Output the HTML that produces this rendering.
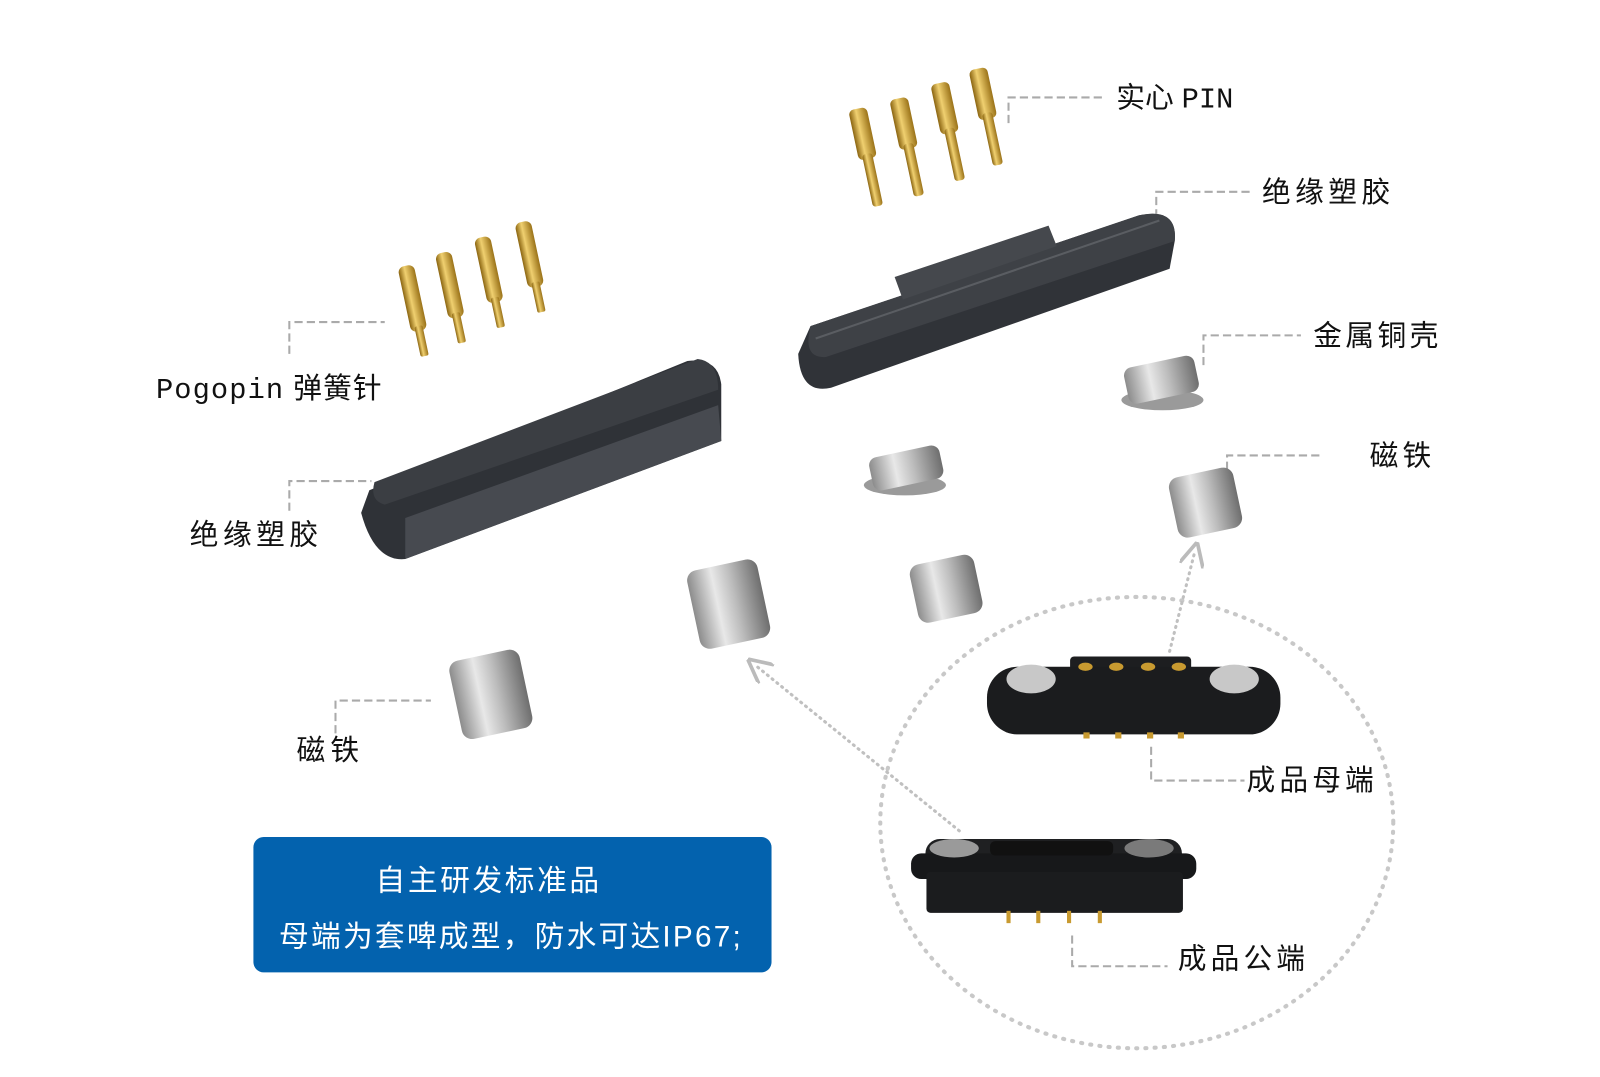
<!DOCTYPE html>
<html><head><meta charset="utf-8"><style>
html,body{margin:0;padding:0;background:#fff;width:1600px;height:1077px;overflow:hidden}
svg{display:block}
text{font-family:"Liberation Sans","Noto Sans CJK SC",sans-serif;fill:#111}
</style></head><body>
<svg width="1600" height="1077" viewBox="0 0 1559.5 1050" preserveAspectRatio="none" xmlns="http://www.w3.org/2000/svg">
<defs>
<linearGradient id="gold" x1="0" x2="1"><stop offset="0" stop-color="#8a6410"/><stop offset=".4" stop-color="#f0d070"/><stop offset="1" stop-color="#9a7218"/></linearGradient>
<linearGradient id="cyl" x1="0" x2="1"><stop offset="0" stop-color="#8c8c8c"/><stop offset=".35" stop-color="#e8e8e8"/><stop offset=".6" stop-color="#bdbdbd"/><stop offset="1" stop-color="#6e6e6e"/></linearGradient>
<linearGradient id="dark" x1="0" y1="0" x2="0" y2="1"><stop offset="0" stop-color="#4a4d52"/><stop offset="1" stop-color="#2c2e33"/></linearGradient>
<marker id="arr" viewBox="0 0 10 10" refX="5" refY="5" markerWidth="8" markerHeight="8" orient="auto"><path d="M0,0 L10,5 L0,10" fill="none" stroke="#bbb" stroke-width="1.5"/></marker>
</defs>

<ellipse cx="1108" cy="802" rx="250" ry="220" fill="none" stroke="#c8c8c8" stroke-width="4" stroke-dasharray="1 8" stroke-linecap="round"/>
<line x1="1140" y1="635" x2="1164" y2="540" stroke="#c0c0c0" stroke-width="3" stroke-dasharray="1 5" stroke-linecap="round" marker-end="url(#arr)"/>
<line x1="935" y1="810" x2="738" y2="650" stroke="#c0c0c0" stroke-width="3" stroke-dasharray="1 5" stroke-linecap="round" marker-end="url(#arr)"/>

<g fill="none" stroke="#aaa" stroke-width="2" stroke-dasharray="8 4">
<path d="M983 120 V95 H1075"/>
<path d="M1127 212 V187 H1218"/>
<path d="M1173 356 V327 H1268"/>
<path d="M1196 470 V444 H1290"/>
<path d="M282 345 V314 H375"/>
<path d="M282 498 V469 H362"/>
<path d="M327 715 V683 H420"/>
<path d="M1122 728 V761 H1213"/>
<path d="M1045 912 V942 H1138"/>
</g>

<g font-size="28">
<text x="1088" y="105">实心 <tspan font-family="Liberation Mono, monospace">PIN</tspan></text>
<text x="1230" y="197" textLength="125">绝缘塑胶</text>
<text x="1280" y="337" textLength="122">金属铜壳</text>
<text x="1335" y="454" textLength="60">磁铁</text>
<text x="152" y="388" textLength="220"><tspan font-family="Liberation Mono, monospace">Pogopin</tspan> 弹簧针</text>
<text x="185" y="531" textLength="125">绝缘塑胶</text>
<text x="289" y="741" textLength="61">磁铁</text>
<text x="1215" y="770" textLength="124">成品母端</text>
<text x="1148" y="944" textLength="124">成品公端</text>
</g>

<g fill="url(#gold)">
<g transform="rotate(-12 845 150)"><rect x="836" y="105" width="18" height="50" rx="5"/><rect x="840" y="150" width="10" height="52" rx="3"/></g>
<g transform="rotate(-12 885 140)"><rect x="876" y="95" width="18" height="50" rx="5"/><rect x="880" y="140" width="10" height="52" rx="3"/></g>
<g transform="rotate(-12 925 125)"><rect x="916" y="80" width="18" height="50" rx="5"/><rect x="920" y="125" width="10" height="52" rx="3"/></g>
<g transform="rotate(-12 962 110)"><rect x="953" y="66" width="18" height="50" rx="5"/><rect x="957" y="110" width="10" height="52" rx="3"/></g>
</g>

<g fill="url(#gold)">
<g transform="rotate(-12 405 300)"><rect x="396" y="258" width="16" height="65" rx="6"/><rect x="400" y="318" width="8" height="30" rx="2"/></g>
<g transform="rotate(-12 442 290)"><rect x="433" y="245" width="16" height="65" rx="6"/><rect x="437" y="305" width="8" height="30" rx="2"/></g>
<g transform="rotate(-12 480 275)"><rect x="471" y="230" width="16" height="65" rx="6"/><rect x="475" y="290" width="8" height="30" rx="2"/></g>
<g transform="rotate(-12 520 262)"><rect x="511" y="215" width="16" height="65" rx="6"/><rect x="515" y="275" width="8" height="30" rx="2"/></g>
</g>

<!-- top right body -->
<path d="M790 318 L1110 210 Q1148 202 1145 235 L1140 262 L810 378 Q780 385 778 345 Z" fill="#303338"/>
<path d="M790 318 L1110 210 Q1148 202 1145 235 L805 348 Q782 350 790 318 Z" fill="#3e4146"/>
<path d="M872 270 L1022 220 L1030 240 L880 292 Z" fill="#45484d"/>
<path d="M795 330 L1130 215" stroke="#5a5d62" stroke-width="2"/>

<!-- left body -->
<path d="M360 478 L670 352 Q700 348 703 375 L703 430 L395 545 Q365 548 352 500 Z" fill="#2f3237"/>
<path d="M365 470 L680 350 Q700 352 700 380 L375 492 Q360 488 365 470 Z" fill="#3b3e43"/>
<path d="M395 505 L700 395 L703 430 L395 545 Z" fill="#474a50"/>

<ellipse cx="882" cy="473" rx="40" ry="10" fill="#9a9a9a"/>
<rect x="848" y="440" width="70" height="33" rx="8" fill="url(#cyl)" transform="rotate(-12 882 455)"/>
<ellipse cx="1133" cy="390" rx="40" ry="10" fill="#9a9a9a"/>
<rect x="1097" y="352" width="70" height="36" rx="8" fill="url(#cyl)" transform="rotate(-12 1133 370)"/>

<g transform="rotate(-12 710 588)"><rect x="675" y="550" width="70" height="78" rx="10" fill="url(#cyl)"/></g>
<g transform="rotate(-12 478 675)"><rect x="443" y="638" width="70" height="78" rx="10" fill="url(#cyl)"/></g>
<g transform="rotate(-12 922 573)"><rect x="890" y="545" width="64" height="58" rx="10" fill="url(#cyl)"/></g>
<g transform="rotate(-12 1175 490)"><rect x="1143" y="460" width="64" height="60" rx="10" fill="url(#cyl)"/></g>

<rect x="1043" y="640" width="118" height="30" rx="4" fill="#1d1e20"/>
<rect x="962" y="650" width="286" height="66" rx="30" fill="#1b1c1e"/>
<ellipse cx="1005" cy="662" rx="24" ry="14" fill="#c8c8c8"/>
<ellipse cx="1203" cy="662" rx="24" ry="14" fill="#c8c8c8"/>
<g fill="#c89a30"><ellipse cx="1058" cy="650" rx="7" ry="4"/><ellipse cx="1088" cy="650" rx="7" ry="4"/><ellipse cx="1119" cy="650" rx="7" ry="4"/><ellipse cx="1149" cy="650" rx="7" ry="4"/>
<rect x="1056" y="714" width="6" height="6"/><rect x="1087" y="714" width="6" height="6"/><rect x="1118" y="714" width="6" height="6"/><rect x="1148" y="714" width="6" height="6"/></g>

<rect x="902" y="818" width="250" height="30" rx="14" fill="#1f2022"/>
<rect x="888" y="832" width="278" height="25" rx="10" fill="#17181a"/>
<rect x="903" y="850" width="250" height="40" rx="4" fill="#1b1c1e"/>
<ellipse cx="930" cy="827" rx="24" ry="9" fill="#9a9a9a"/>
<ellipse cx="1120" cy="827" rx="24" ry="9" fill="#7a7a7a"/>
<rect x="965" y="820" width="120" height="14" rx="5" fill="#111"/>
<g fill="#c89a30"><rect x="981" y="888" width="4" height="12"/><rect x="1010" y="888" width="4" height="12"/><rect x="1040" y="888" width="4" height="12"/><rect x="1070" y="888" width="4" height="12"/></g>

<rect x="247" y="816" width="505" height="132" rx="10" fill="#0362ae"/>
<g font-size="29"><text x="366" y="868" textLength="218" style="fill:#fff">自主研发标准品</text>
<text x="272" y="923" textLength="450" style="fill:#fff">母端为套啤成型，防水可达IP67;</text></g>
</svg>
</body></html>
